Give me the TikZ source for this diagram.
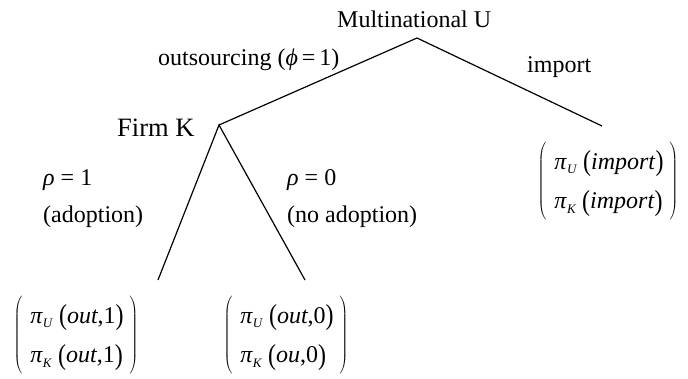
\documentclass[tikz,border=0pt]{standalone}
\usepackage{fontspec}
\usepackage{graphicx}
\setmainfont{Liberation Serif}
\newfontfamily\tms{Liberation Serif}
\newcommand{\pisub}[1]{\textit{π}\raisebox{-0.45ex}{\fontsize{13}{15}\selectfont\textit{#1}}\hspace{6pt}}
\newcommand{\bp}[1]{\raisebox{-0.08em}{\scalebox{1}[1.2]{(}}#1\raisebox{-0.08em}{\scalebox{1}[1.2]{)}}}
\newcommand{\payoff}[2]{$\left(\begin{tabular}{@{\hspace{8pt}}l@{\hspace{6pt}}}#1\\#2\end{tabular}\right)$}
\tikzset{
  lbl/.style={anchor=base west, inner sep=0pt, font=\tms\fontsize{24}{27}\selectfont},
  vec/.style={inner sep=0pt, font=\tms\fontsize{24}{27}\selectfont},
  branch/.style={line width=1.2pt}
}
\begin{document}
\begin{tikzpicture}[x=1pt,y=-1pt]
\useasboundingbox (0,0) rectangle (688,378);
\coordinate (root) at (417,38);
\coordinate (firmk) at (219,125);
\coordinate (imp) at (602,126);
\coordinate (l1) at (158,280);
\coordinate (l2) at (305,280);
\draw[branch] (firmk) -- (root) -- (imp);
\draw[branch] (l1) -- (firmk) -- (l2);
\node[lbl] (mu) at (337,27) {Multinational U};
\node[lbl] (outs) at (158,65) {outsourcing (\textit{ϕ}\,=\,1)};
\node[lbl] (imlab) at (527,72) {import};
\node[lbl, font=\tms\fontsize{26.5}{30}\selectfont] (fk) at (117,136) {Firm K};
\node[lbl] (r1) at (43,185) {\textit{ρ} = 1};
\node[lbl] (ad) at (43,222) {(adoption)};
\node[lbl] (r0) at (287,185) {\textit{ρ} = 0};
\node[lbl] (noad) at (287,222) {(no adoption)};
\node[vec] (v1) at (76,335) {\renewcommand{\arraystretch}{1.48}\payoff{\pisub{U}\bp{\textit{out},1}}{\pisub{K}\bp{\textit{out},1}}};
\node[vec] (v2) at (286,335) {\renewcommand{\arraystretch}{1.48}\payoff{\pisub{U}\bp{\textit{out},0}}{\pisub{K}\bp{\textit{ou},0}}};
\node[vec] (v3) at (608,181) {\renewcommand{\arraystretch}{1.48}\payoff{\pisub{U}\bp{\textit{import}}}{\pisub{K}\bp{\textit{import}}}};
\end{tikzpicture}
\end{document}
